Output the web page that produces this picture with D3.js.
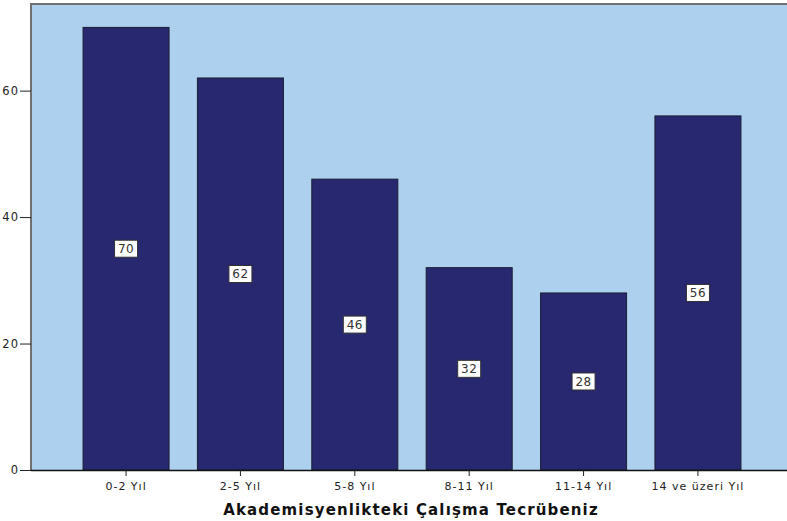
<!DOCTYPE html>
<html><head><meta charset="utf-8">
<script src="https://cdn.jsdelivr.net/npm/d3@7"></script>
<style>body{margin:0;background:#fff}svg{display:block}</style>
</head><body><svg id="c" width="787" height="521"></svg>
<script>
const categories = ["0-2 Yıl","2-5 Yıl","5-8 Yıl","8-11 Yıl","11-14 Yıl","14 ve üzeri Yıl"];
const values = [70,62,46,32,28,56];
const yTicks = [0,20,40,60];
const xTitle = "Akademisyenlikteki Çalışma Tecrübeniz";

(function(){
const svg = d3.select("#c");
const font = "DejaVu Sans, Verdana, sans-serif";
const mL = 31, mT = 4, mR = 793, mB = 470;
const x = d3.scaleBand().domain(categories).range([mL, mR]).paddingInner(0.248).paddingOuter(0.455);
const y = d3.scaleLinear().domain([0, 73.7]).range([mB, mT]);

svg.append("rect").attr("x", mL).attr("y", mT).attr("width", mR-mL).attr("height", mB-mT)
  .attr("fill", "#add0ee");

svg.selectAll("rect.bar").data(values).enter().append("rect").attr("class","bar")
  .attr("x", (d,i)=>x(categories[i])).attr("y", d=>y(d))
  .attr("width", x.bandwidth()).attr("height", d=>mB-y(d))
  .attr("fill", "#282870").attr("stroke", "#1a1f33").attr("stroke-width", 1);

const lg = svg.selectAll("g.lab").data(values).enter().append("g")
  .attr("transform", (d,i)=>`translate(${x(categories[i])+x.bandwidth()/2},${(y(d)+mB)/2})`);
lg.append("rect").attr("x",-11.5).attr("y",-8.5).attr("width",23).attr("height",17)
  .attr("fill","#fff").attr("stroke","#333").attr("stroke-width",1);
lg.append("text").text(d=>d).attr("text-anchor","middle").attr("dy","0.36em")
  .attr("font-family",font).attr("font-size",12).attr("letter-spacing","0.5px").attr("fill","#333");

svg.append("path").attr("d", `M${mL},${mB}V${mT}H${mR}`).attr("fill","none")
  .attr("stroke","#707070").attr("stroke-width",2);

const ya = svg.append("g").attr("transform",`translate(${mL},0)`)
  .call(d3.axisLeft(y).tickValues(yTicks).tickSize(11).tickPadding(1).tickFormat(d3.format("d")));
ya.select(".domain").remove();
ya.selectAll("line").attr("stroke","#222");
ya.selectAll("text").attr("font-family",font).attr("font-size",11.5).attr("letter-spacing","1px").attr("fill","#222");

const xa = svg.append("g").attr("transform",`translate(0,${mB})`)
  .call(d3.axisBottom(x).tickSize(6).tickPadding(6));
xa.select(".domain").attr("d",`M${mL},0.5H${mR}`).attr("stroke","#111").attr("stroke-width",1.5);
xa.selectAll("line").attr("stroke","#222");
xa.selectAll("text").attr("font-family",font).attr("font-size",11).attr("letter-spacing","1px").attr("fill","#222");

svg.append("text").attr("x", 411).attr("y", 515).attr("text-anchor","middle")
  .attr("font-family",font).attr("font-size",15).attr("font-weight","bold").attr("letter-spacing","1.15px")
  .attr("fill","#111").text(xTitle);
})();
</script></body></html>
